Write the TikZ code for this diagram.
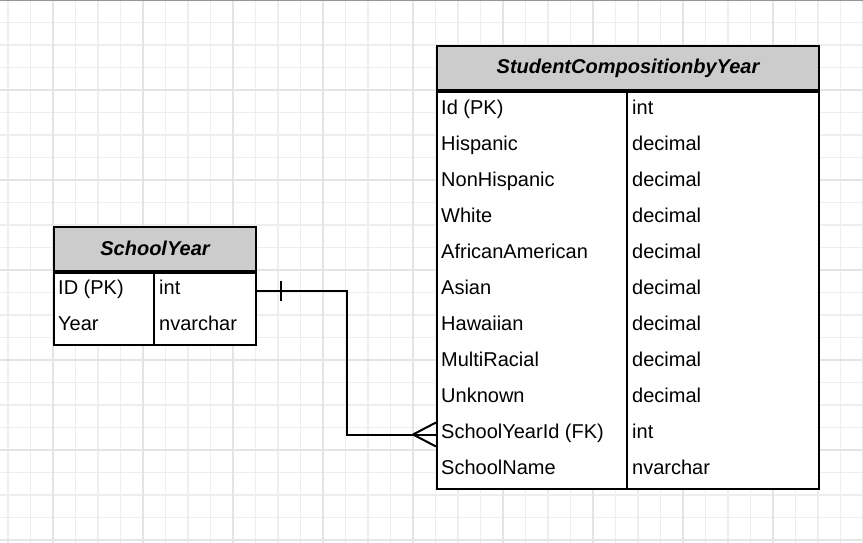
\documentclass[tikz,border=0pt]{standalone}
\usepackage{fontspec}
\setmainfont{Liberation Sans}
\usetikzlibrary{positioning}
\definecolor{headgray}{RGB}{204,204,204}
\definecolor{gridlight}{RGB}{238,238,238}
\definecolor{griddark}{RGB}{228,228,228}
\definecolor{topline}{RGB}{150,150,150}
\tikzset{
  tblhead/.style={draw, line width=2pt, fill=headgray, inner sep=0pt, anchor=north west,
    font=\fontsize{20}{24}\selectfont\bfseries\itshape},
  tblbody/.style={draw, line width=2pt, fill=white, inner sep=0pt, anchor=north west},
  fieldtxt/.style={anchor=base west, inner sep=0pt, font=\fontsize{20}{24}\selectfont},
  relline/.style={line width=2pt}
}

\begin{document}
\begin{tikzpicture}[x=1pt,y=-1pt]
    \useasboundingbox (0,0) rectangle (863,543);
    % grid
    \foreach \k in {0,...,38} \draw[gridlight, line width=1.5pt] ({8+22.5*\k},0) -- ({8+22.5*\k},543);
    \foreach \k in {0,...,24} \draw[gridlight, line width=1.5pt] (0,{22.5*\k}) -- (863,{22.5*\k});
    \foreach \k in {0,...,9} \draw[griddark, line width=1.2pt] ({53+90*\k},0) -- ({53+90*\k},543);
    \foreach \k in {1,...,6} \draw[griddark, line width=1.2pt] (0,{90*\k}) -- (863,{90*\k});
    \draw[topline, line width=1.5pt] (0,0.75) -- (863,0.75);
    %
    % SchoolYear
    \node[tblhead, minimum width=202pt, minimum height=44pt] (sy-head) at (53,225.5) {SchoolYear};
    \node[tblbody, minimum width=202pt, minimum height=72pt] (sy-body) at (sy-head.south west) {};
    \draw[line width=2pt] ([xshift=101pt]sy-body.north west) -- ([xshift=101pt]sy-body.south west);
    \foreach \fname/\ftype [count=\i] in {ID (PK)/int, Year/nvarchar} {
      \node[fieldtxt] (sy-f\i) at (58,{258+36*\i}) {\fname};
      \node[fieldtxt] (sy-t\i) at (159,{258+36*\i}) {\ftype};
    }
    %
    % StudentCompositionbyYear
    \node[tblhead, minimum width=382pt, minimum height=44pt] (sc-head) at (436,45.5) {StudentCompositionbyYear};
    \node[tblbody, minimum width=382pt, minimum height=396pt] (sc-body) at (sc-head.south west) {};
    \draw[line width=2pt] ([xshift=191pt]sc-body.north west) -- ([xshift=191pt]sc-body.south west);
    \foreach \fname/\ftype [count=\i] in {Id (PK)/int, Hispanic/decimal, NonHispanic/decimal,
        White/decimal, AfricanAmerican/decimal, Asian/decimal, Hawaiian/decimal,
        MultiRacial/decimal, Unknown/decimal, SchoolYearId (FK)/int, SchoolName/nvarchar} {
      \node[fieldtxt] (sc-f\i) at (441,{78+36*\i}) {\fname};
      \node[fieldtxt] (sc-t\i) at (632,{78+36*\i}) {\ftype};
    }
    %
    % relationship
    \coordinate (sy-pk) at ([yshift=-19pt]sy-body.north east);
    \coordinate (sc-fk) at ([yshift=-343pt]sc-body.north west);
    \draw[relline] (sy-pk) -- ++(90,0) |- (sc-fk);
    \draw[relline] ([xshift=24pt,yshift=10pt]sy-pk) -- ([xshift=24pt,yshift=-10pt]sy-pk);
    \draw[relline] ([xshift=-23pt]sc-fk) -- ([yshift=12pt]sc-fk);
    \draw[relline] ([xshift=-23pt]sc-fk) -- ([yshift=-12pt]sc-fk);
\end{tikzpicture}
\end{document}
